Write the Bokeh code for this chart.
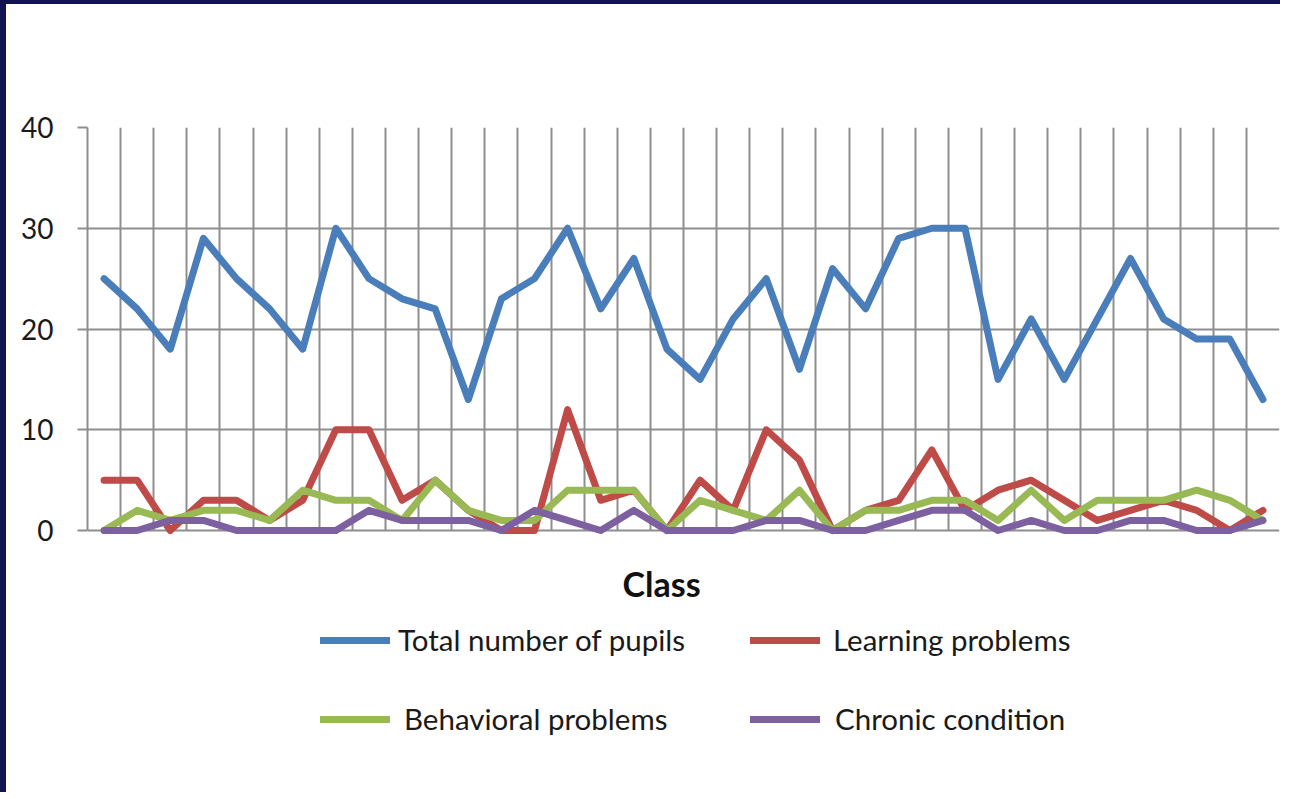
from bokeh.plotting import figure
from bokeh.models import (Range1d, FixedTicker, Legend, LegendItem, BoxAnnotation, Label)
from bokeh.embed import file_html
from bokeh.resources import INLINE

# ---- data ----
classes = list(range(1, 37))
total_pupils = [25, 22, 18, 29, 25, 22, 18, 30, 25, 23, 22, 13, 23, 25, 30, 22, 27, 18,
                15, 21, 25, 16, 26, 22, 29, 30, 30, 15, 21, 15, 21, 27, 21, 19, 19, 13]
learning = [5, 5, 0, 3, 3, 1, 3, 10, 10, 3, 5, 2, 0, 0, 12, 3, 4, 0,
            5, 2, 10, 7, 0, 2, 3, 8, 2, 4, 5, 3, 1, 2, 3, 2, 0, 2]
behavioral = [0, 2, 1, 2, 2, 1, 4, 3, 3, 1, 5, 2, 1, 1, 4, 4, 4, 0,
              3, 2, 1, 4, 0, 2, 2, 3, 3, 1, 4, 1, 3, 3, 3, 4, 3, 1]
chronic = [0, 0, 1, 1, 0, 0, 0, 0, 2, 1, 1, 1, 0, 2, 1, 0, 2, 0,
           0, 0, 1, 1, 0, 0, 1, 2, 2, 0, 1, 0, 0, 1, 1, 0, 0, 1]
y_ticks = [0, 10, 20, 30, 40]
x_title = "Class"
series_names = ["Total number of pupils", "Learning problems",
                "Behavioral problems", "Chronic condition"]
series_colors = ["#4A7EBB", "#BE4B48", "#98B954", "#7D60A0"]

FONT = "Lato"
GRID = "#8e8e8e"
NAVY = "#141352"

# frame extends below the value axis so the title and legend can live inside it
Y_LOW = -24.81
p = figure(width=1280, height=792, output_backend="svg", toolbar_location=None,
           x_range=Range1d(classes[0] - 0.5, classes[-1] + 0.5),
           y_range=Range1d(Y_LOW, y_ticks[-1]),
           x_axis_location=None,
           min_border_left=81, min_border_top=123, min_border_right=7,
           min_border_bottom=16)
p.styles = {"border-top": "4px solid " + NAVY, "border-left": "6px solid " + NAVY}
p.outline_line_color = None
p.background_fill_color = "white"
p.border_fill_color = "white"

# grids
p.ygrid.ticker = FixedTicker(ticks=y_ticks)
p.ygrid.grid_line_color = GRID
p.ygrid.grid_line_width = 2
p.xgrid.ticker = FixedTicker(ticks=[c - 0.5 for c in classes] + [classes[-1] + 0.5])
p.xgrid.grid_line_color = GRID
p.xgrid.grid_line_width = 2

xg = p.xgrid[0]
if hasattr(xg, "cross_bounds"):
    xg.cross_bounds = (y_ticks[0], y_ticks[-1])
else:
    # mask the vertical grid below zero
    p.add_layout(BoxAnnotation(top=-0.1, fill_color="white", fill_alpha=1,
                               line_alpha=0, level="underlay"))

# y axis
p.yaxis.ticker = FixedTicker(ticks=y_ticks)
p.yaxis.bounds = (y_ticks[0], y_ticks[-1])
p.yaxis.axis_line_color = GRID
p.yaxis.axis_line_width = 2
p.yaxis.major_tick_line_color = GRID
p.yaxis.major_tick_line_width = 2
p.yaxis.major_tick_out = 10
p.yaxis.major_tick_in = 0
p.yaxis.minor_tick_line_color = None
p.yaxis.major_label_text_font = FONT
p.yaxis.major_label_text_font_size = "28px"
p.yaxis.major_label_text_color = "#1a1a1a"
p.yaxis.major_label_standoff = 24

renderers = []
for ys, col in zip([total_pupils, learning, behavioral, chronic], series_colors):
    r = p.line(classes, ys, line_color=col, line_width=7,
               line_join="round", line_cap="round")
    renderers.append(r)

# x-axis title
p.add_layout(Label(x=(classes[0] + classes[-1]) / 2 - 0.66, y=-5.3, text=x_title,
                   text_font=FONT, text_font_style="bold", text_font_size="34px",
                   text_color="#111111", text_align="center", text_baseline="middle"))

# legends (2 x 2 grid below the chart)
legend_pos = [(233, 123, 8), (663, 123, 13), (233, 44, 14), (663, 44, 15)]
for name, r, (lx, ly, so) in zip(series_names, renderers, legend_pos):
    lg = Legend(items=[LegendItem(label=name, renderers=[r])], location=(lx, ly),
                orientation="vertical", padding=0, margin=0, spacing=0,
                border_line_color=None, background_fill_alpha=0,
                glyph_width=70, glyph_height=30, label_height=30,
                label_standoff=so, label_text_font=FONT,
                label_text_font_size="29.5px", label_text_color="#1a1a1a",
                click_policy="none")
    p.add_layout(lg, "center")

open("out.html", "w").write(file_html(p, INLINE))
